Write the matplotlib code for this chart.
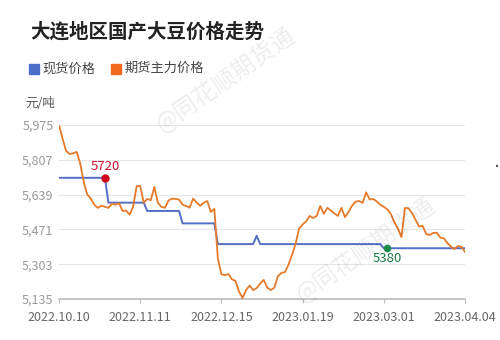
import matplotlib
matplotlib.use('Agg')
import matplotlib.pyplot as plt
from matplotlib.patches import Rectangle

plt.rcParams['font.family'] = ['Noto Sans CJK SC', 'DejaVu Sans']

# 横轴标签 (交易日序号上的刻度)
tick_labels = ['2022.10.10', '2022.11.11', '2022.12.15', '2023.01.19', '2023.03.01', '2023.04.04']
tick_idx = [0, 23, 46, 69, 92, 115]
yticks = [5135, 5303, 5471, 5639, 5807, 5975]

# 期货主力价格
futures = [5975, 5910, 5850, 5835, 5838, 5845, 5790, 5700, 5640, 5620,
           5590, 5575, 5585, 5580, 5575, 5595, 5590, 5598, 5560, 5562,
           5542, 5580, 5680, 5681, 5600, 5618, 5612, 5676, 5600, 5580,
           5575, 5610, 5620, 5618, 5615, 5590, 5584, 5576, 5620, 5600,
           5585, 5600, 5608, 5555, 5570, 5330, 5255, 5250, 5255, 5230,
           5222, 5170, 5140, 5178, 5200, 5178, 5188, 5210, 5227, 5190,
           5178, 5190, 5245, 5261, 5265, 5300, 5348, 5400, 5475, 5495,
           5510, 5536, 5526, 5536, 5584, 5546, 5575, 5562, 5548, 5536,
           5575, 5530, 5555, 5585, 5605, 5608, 5599, 5650, 5615, 5618,
           5606, 5590, 5580, 5568, 5545, 5505, 5475, 5434, 5575, 5572,
           5550, 5517, 5485, 5488, 5449, 5444, 5454, 5455, 5432, 5428,
           5405, 5388, 5376, 5391, 5387, 5362]

# 现货价格
spot = [5720] * 14 + [5600] * 11 + [5560] * 10 + [5500] * 10 + [5400] * 11 \
    + [5440] + [5400] * 35 + [5380] * 24

fig = plt.figure(figsize=(5, 3.4), dpi=100)
ax = fig.add_axes([0.118, 0.1206, 0.812, 0.5118])

x = list(range(len(futures)))
xs = list(range(len(spot)))
ax.plot(xs, spot, color='#5470c6', lw=1.4, zorder=3)
ax.plot(x, futures, color='#e57a2a', lw=1.3, zorder=4)

# 标注点
ax.plot(13, 5720, 'o', color='#d0021b', ms=5, zorder=5)
ax.text(13, 5745, '5720', color='#c8102e', fontsize=9.5, ha='center', va='bottom')
ax.plot(93, 5380, 'o', color='#1b8a4a', ms=4.5, zorder=5)
ax.text(93, 5360, '5380', color='#1b7a44', fontsize=9.5, ha='center', va='top')

ax.set_xlim(0, 115)
ax.set_ylim(5135, 5975)
ax.set_yticks(yticks)
ax.set_yticklabels([f'{v:,}' for v in yticks])
ax.set_xticks(tick_idx)
ax.set_xticklabels(tick_labels)
ax.grid(axis='y', color='#e6e6e6', lw=0.8)
ax.set_axisbelow(True)
for s in ['top', 'right', 'left']:
    ax.spines[s].set_visible(False)
ax.spines['bottom'].set_color('#bbbbbb')
ax.spines['bottom'].set_linewidth(1.2)
ax.tick_params(axis='y', length=0, labelsize=9, labelcolor='#999999', pad=4)
ax.tick_params(axis='x', length=3, color='#bbbbbb', labelsize=9, labelcolor='#666666', pad=6)

# 标题与图例
fig.text(0.06, 0.905, '大连地区国产大豆价格走势', fontsize=14, fontweight='bold', color='#222222', va='center')
fig.patches.append(Rectangle((0.058, 0.783), 0.02, 0.03, transform=fig.transFigure,
                             color='#4a6fc9', figure=fig))
fig.text(0.085, 0.798, '现货价格', fontsize=9.5, color='#444444', va='center')
fig.patches.append(Rectangle((0.222, 0.783), 0.02, 0.03, transform=fig.transFigure,
                             color='#f06a1e', figure=fig))
fig.text(0.249, 0.798, '期货主力价格', fontsize=9.5, color='#444444', va='center')
fig.text(0.05, 0.695, '元/吨', fontsize=9, color='#555555', va='center')

# 水印
fig.text(0.30, 0.60, '@同花顺期货通', fontsize=17, color='#000000', alpha=0.07,
         rotation=35, va='bottom', ha='left')
fig.text(0.58, 0.10, '@同花顺期货通', fontsize=17, color='#000000', alpha=0.07,
         rotation=35, va='bottom', ha='left')
fig.text(0.993, 0.51, '•', fontsize=7, color='#222222', ha='center', va='center')

fig.savefig('out.png', dpi=100)
